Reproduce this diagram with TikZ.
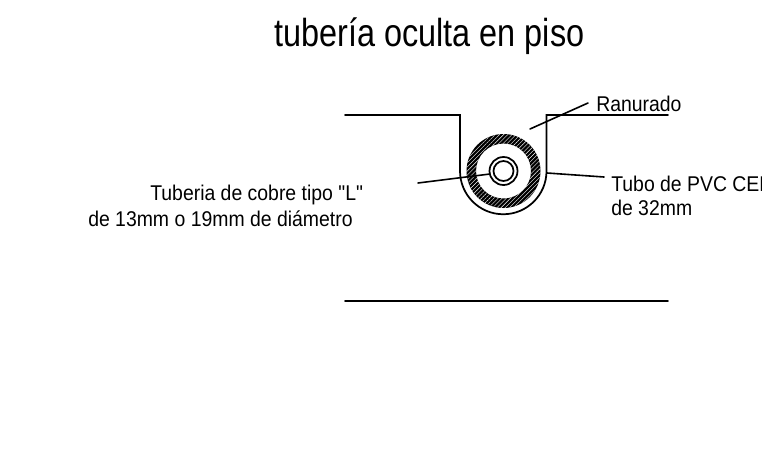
\documentclass[tikz,border=0pt]{standalone}
\usepackage{fontspec}
\setmainfont{Liberation Sans}[Ligatures=TeXOff]
\newfontfamily\titlefont{Liberation Sans}[FakeStretch=0.83, Ligatures=TeXOff]
\newfontfamily\notefont{Liberation Sans}[FakeStretch=0.91, Ligatures=TeXOff]
\usetikzlibrary{patterns.meta}
\tikzstyle{titlelabel} = [inner sep=0pt, font=\titlefont\fontsize{29.3}{32}\selectfont]
\tikzstyle{notelabel} = [inner sep=0pt, anchor=base west, font=\notefont\fontsize{16}{18}\selectfont]
\tikzstyle{line} = [line width=1.3pt, line cap=round]
\tikzstyle{leader} = [line width=1.2pt, line cap=round]

\begin{document}
\begin{tikzpicture}[x=0.75pt,y=-0.75pt]

    \useasboundingbox (0,0) rectangle (762,464);

    \node (title) [titlelabel, anchor=base west] at (274,46.5) {tubería oculta en piso};
    \node (ranurado) [notelabel] at (596,111.5) {Ranurado};
    \node (tubo) [notelabel] at (611,191) {Tubo de PVC CED};
    \node (tubob) [notelabel] at (611,215) {de 32mm};
    \node (cobre) [notelabel] at (150,200) {Tuberia de cobre tipo "L"};
    \node (cobreb) [notelabel] at (88,226) {de 13mm o 19mm de diámetro};

    % ring of the PVC tube
    \fill [black, even odd rule] (503.5,171) circle (37) circle (27.5);
    \fill [pattern={Lines[angle=45,distance=2.2pt,line width=0.3pt]}, pattern color=white, even odd rule] (503.5,171) circle (37) circle (27.5);
    \draw [line] (503.5,171) circle (14);
    \draw [line] (503.5,171) circle (10);

    % trench
    \coordinate (topleft) at (345,115);
    \coordinate (cornerleft) at (460,115);
    \coordinate (cornerright) at (546.5,115);
    \coordinate (topright) at (668,115);
    \coordinate (bottomleft) at (345,301);
    \coordinate (bottomright) at (668,301);
    \draw [line] (topleft) -- (cornerleft) -- (460,171) arc[start angle=180, end angle=0, radius=43.25] -- (cornerright) -- (topright);
    \draw [line] (bottomleft) -- (bottomright);

    % leaders
    \coordinate (ranuradoa) at (530,129);
    \coordinate (ranuradob) at (588,103);
    \coordinate (cobrea) at (418,183);
    \coordinate (cobreb2) at (490,174);
    \coordinate (tuboa) at (547,173);
    \coordinate (tubob2) at (604,177);
    \draw [leader] (ranuradoa) -- (ranuradob);
    \draw [leader] (cobrea) -- (cobreb2);
    \draw [leader] (tuboa) -- (tubob2);

\end{tikzpicture}
\end{document}
